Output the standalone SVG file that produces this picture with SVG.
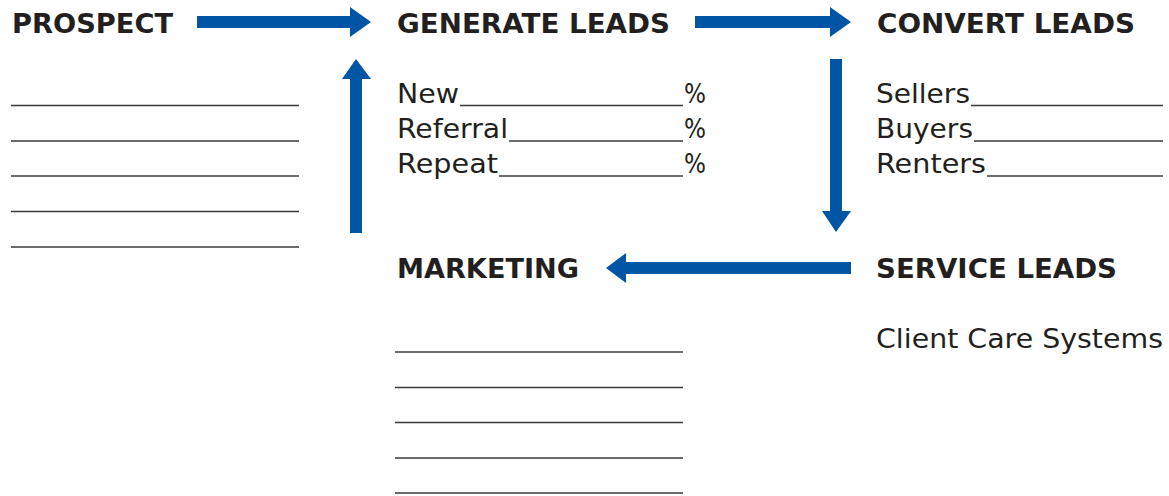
<svg xmlns="http://www.w3.org/2000/svg" width="1169" height="496" viewBox="0 0 1169 496">
  <style>
    .head { font-family: "DejaVu Sans", "Liberation Sans", sans-serif; font-weight: bold; font-size: 27px; fill: #231f20; }
    .body { font-family: "DejaVu Sans", "Liberation Sans", sans-serif; font-size: 27px; fill: #231f20; }
    .rule { stroke: #3a3a3a; stroke-width: 1.6; fill: none; }
    .arrow { fill: #0055a5; }
  </style>
  <rect width="1169" height="496" fill="#ffffff"/>

  <!-- flow arrows -->
  <g id="connectors" class="arrow">
    <polygon points="197,16 350,16 350,7 371,22 350,37 350,28 197,28"/>
    <polygon points="695,16 830,16 830,7 851,22 830,37 830,28 695,28"/>
    <polygon points="830,59 842,59 842,211 851,211 836,232 822,211 830,211"/>
    <polygon points="851,262 851,274 626,274 626,283 606,268 626,253 626,262"/>
    <polygon points="350,233 362,233 362,79 371,79 356,59 342,79 350,79"/>
  </g>

  <g id="prospect">
    <text class="head" x="12" y="33" textLength="161" lengthAdjust="spacingAndGlyphs">PROSPECT</text>
    <line class="rule" x1="11" y1="105.5" x2="299" y2="105.5"/>
    <line class="rule" x1="11" y1="141" x2="299" y2="141"/>
    <line class="rule" x1="11" y1="176" x2="299" y2="176"/>
    <line class="rule" x1="11" y1="211.5" x2="299" y2="211.5"/>
    <line class="rule" x1="11" y1="247" x2="299" y2="247"/>
  </g>

  <g id="generate-leads">
    <text class="head" x="397" y="33" textLength="273" lengthAdjust="spacingAndGlyphs">GENERATE LEADS</text>
    <text class="body" x="397" y="103" textLength="62" lengthAdjust="spacingAndGlyphs">New</text>
    <text class="body" x="397" y="138" textLength="111" lengthAdjust="spacingAndGlyphs">Referral</text>
    <text class="body" x="397" y="173" textLength="101" lengthAdjust="spacingAndGlyphs">Repeat</text>
    <line class="rule" x1="460" y1="105.5" x2="683" y2="105.5"/>
    <line class="rule" x1="509" y1="141" x2="683" y2="141"/>
    <line class="rule" x1="499" y1="176" x2="683" y2="176"/>
    <text class="body" x="684" y="103" textLength="22" lengthAdjust="spacingAndGlyphs">%</text>
    <text class="body" x="684" y="138" textLength="22" lengthAdjust="spacingAndGlyphs">%</text>
    <text class="body" x="684" y="173" textLength="22" lengthAdjust="spacingAndGlyphs">%</text>
  </g>

  <g id="convert-leads">
    <text class="head" x="877" y="33" textLength="258" lengthAdjust="spacingAndGlyphs">CONVERT LEADS</text>
    <text class="body" x="876" y="103" textLength="94" lengthAdjust="spacingAndGlyphs">Sellers</text>
    <text class="body" x="876" y="138" textLength="97" lengthAdjust="spacingAndGlyphs">Buyers</text>
    <text class="body" x="876" y="173" textLength="110" lengthAdjust="spacingAndGlyphs">Renters</text>
    <line class="rule" x1="971" y1="105.5" x2="1163" y2="105.5"/>
    <line class="rule" x1="974" y1="141" x2="1163" y2="141"/>
    <line class="rule" x1="987" y1="176" x2="1163" y2="176"/>
  </g>

  <g id="service-leads">
    <text class="head" x="876" y="278" textLength="241" lengthAdjust="spacingAndGlyphs">SERVICE LEADS</text>
    <text class="body" x="876" y="348" textLength="287" lengthAdjust="spacingAndGlyphs">Client Care Systems</text>
  </g>

  <g id="marketing">
    <text class="head" x="397" y="278" textLength="182" lengthAdjust="spacingAndGlyphs">MARKETING</text>
    <line class="rule" x1="395" y1="352" x2="683" y2="352"/>
    <line class="rule" x1="395" y1="387.5" x2="683" y2="387.5"/>
    <line class="rule" x1="395" y1="422.5" x2="683" y2="422.5"/>
    <line class="rule" x1="395" y1="458" x2="683" y2="458"/>
    <line class="rule" x1="395" y1="493" x2="683" y2="493"/>
  </g>
</svg>
